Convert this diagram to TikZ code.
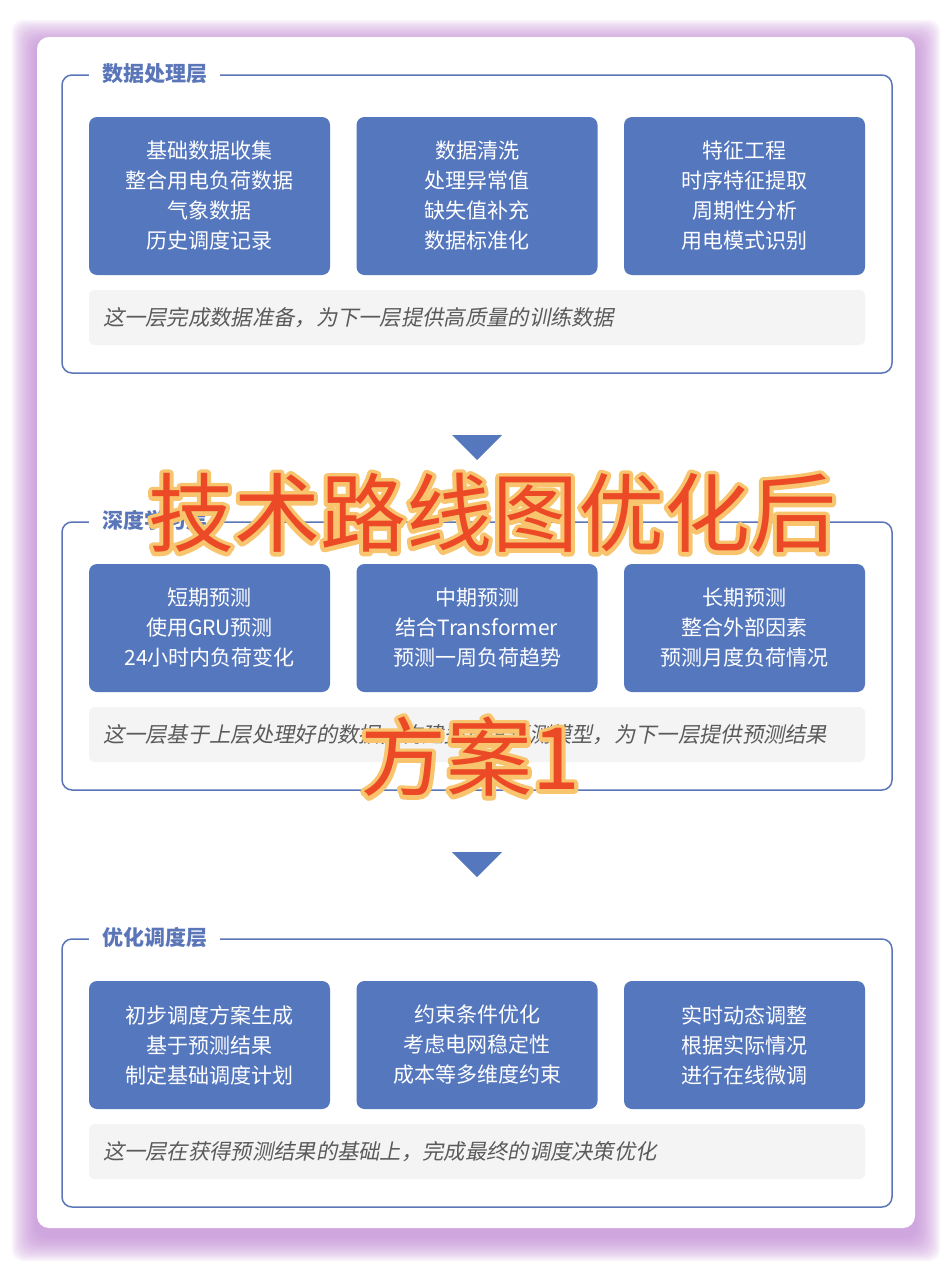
\documentclass[tikz,border=0pt]{standalone}
\usepackage{fontspec}
\setmainfont{Noto Sans CJK SC}
\newfontfamily\capfont[FakeSlant=0.2]{Noto Sans CJK SC}
\newfontfamily\bigfont{Noto Sans CJK SC}
\usetikzlibrary{calc}
\definecolor{layerblue}{HTML}{5A76B8}
\definecolor{boxblue}{HTML}{5577BE}
\definecolor{capgray}{HTML}{F4F4F4}
\definecolor{captext}{HTML}{5A5A5A}
\definecolor{glowpurple}{HTML}{BE86D2}
\definecolor{stampred}{HTML}{EC4A26}
\definecolor{stampyellow}{HTML}{F8C56E}
% outlined text for the stamp
\newcommand{\haloed}[1]{\special{pdf:literal direct 2 Tr 8 w 1 j 1 J}#1\special{pdf:literal direct 0 Tr}}
\tikzset{
  layerframe/.style={draw=layerblue, line width=1.5pt, rounded corners=10pt, minimum width=830pt},
  layertitle/.style={fill=white, text=layerblue, font=\fontsize{21}{24}\selectfont\bfseries, inner xsep=13pt, inner ysep=2pt, anchor=west},
  stepbox/.style={fill=boxblue, text=white, rounded corners=8pt, minimum width=241pt, align=center, font=\fontsize{21}{30}\selectfont},
  notebox/.style={fill=capgray, rounded corners=6pt, minimum height=55pt, text width=748pt, inner xsep=14pt, align=left, text=captext, font=\capfont\fontsize{21.3}{24}\selectfont},
  stamp/.style={font=\bigfont\fontsize{86}{90}\selectfont, inner sep=0pt},
  downtip/.style={fill=boxblue}
}
\begin{document}
\begin{tikzpicture}[x=1pt, y=-1pt]
    \useasboundingbox (0,0) rectangle (952,1266);

    % card with glow
    \foreach \i in {1,...,14} {
        \pgfmathsetmacro\d{1.8*\i}
        \fill[glowpurple, opacity=0.09, rounded corners=12pt] (37-\d,45-\d) rectangle (915+\d,1236+\d);
    }
    \fill[white, rounded corners=12pt] (37,37) rectangle (915,1228);

    % layer 1
    \node[layerframe, minimum height=298pt] (F1) at (477,224) {};
    \node[layertitle] (T1) at ($(F1.north west)+(28,-1)$) {数据处理层};
    \node[stepbox, minimum height=158pt] (B11) at (209.5,196) {基础数据收集\\整合用电负荷数据\\气象数据\\历史调度记录};
    \node[stepbox, minimum height=158pt] (B12) at (477,196) {数据清洗\\处理异常值\\缺失值补充\\数据标准化};
    \node[stepbox, minimum height=158pt] (B13) at (744.5,196) {特征工程\\时序特征提取\\周期性分析\\用电模式识别};
    \node[notebox] (N1) at (477,317.5) {这一层完成数据准备，为下一层提供高质量的训练数据};

    % layer 2
    \node[layerframe, minimum height=268pt] (F2) at (477,656) {};
    \node[layertitle] (T2) at ($(F2.north west)+(28,-1)$) {深度学习层};
    \node[stepbox, minimum height=128pt] (B21) at (209.5,628) {短期预测\\使用GRU预测\\24小时内负荷变化};
    \node[stepbox, minimum height=128pt] (B22) at (477,628) {中期预测\\结合Transformer\\预测一周负荷趋势};
    \node[stepbox, minimum height=128pt] (B23) at (744.5,628) {长期预测\\整合外部因素\\预测月度负荷情况};
    \node[notebox] (N2) at (477,734.5) {这一层基于上层处理好的数据，构建多尺度预测模型，为下一层提供预测结果};

    % layer 3
    \node[layerframe, minimum height=268pt] (F3) at (477,1073) {};
    \node[layertitle] (T3) at ($(F3.north west)+(28,-1)$) {优化调度层};
    \node[stepbox, minimum height=128pt] (B31) at (209.5,1045) {初步调度方案生成\\基于预测结果\\制定基础调度计划};
    \node[stepbox, minimum height=128pt] (B32) at (477,1045) {约束条件优化\\考虑电网稳定性\\成本等多维度约束};
    \node[stepbox, minimum height=128pt] (B33) at (744.5,1045) {实时动态调整\\根据实际情况\\进行在线微调};
    \node[notebox] (N3) at (477,1151.5) {这一层在获得预测结果的基础上，完成最终的调度决策优化};

    % arrows between layers
    \coordinate (M1) at ($(F1.south)!0.5!(F2.north)$);
    \coordinate (M2) at ($(F2.south)!0.5!(F3.north)$);
    \fill[downtip] ($(M1)+(-25,-12.5)$) -- ($(M1)+(25,-12.5)$) -- ($(M1)+(0,12.5)$) -- cycle;
    \fill[downtip] ($(M2)+(-25,-12.5)$) -- ($(M2)+(25,-12.5)$) -- ($(M2)+(0,12.5)$) -- cycle;

    % stamp text
    \node[stamp, text=stampyellow] (S1h) at (492,513) {\haloed{技术路线图优化后}};
    \node[stamp, text=stampyellow] (S2h) at (470,757) {\haloed{方案1}};
    \node[stamp, text=stampred] (S1) at (S1h) {技术路线图优化后};
    \node[stamp, text=stampred] (S2) at (S2h) {方案1};

\end{tikzpicture}
\end{document}
